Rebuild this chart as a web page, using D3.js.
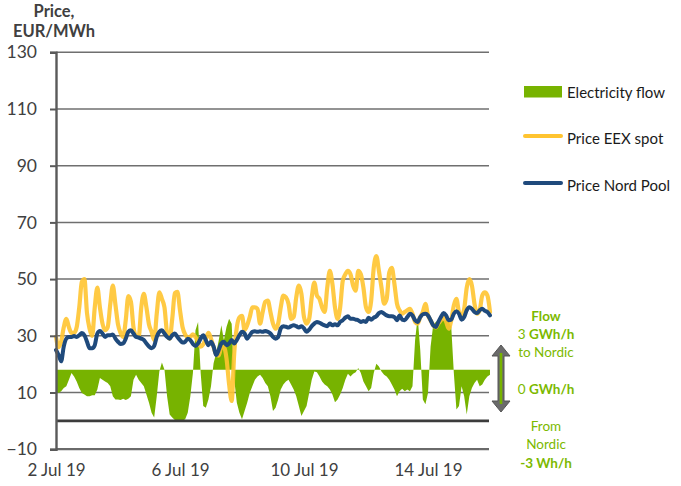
<!DOCTYPE html>
<html><head><meta charset="utf-8">
<script src="https://cdn.jsdelivr.net/npm/d3@7"></script>
<style>
html,body{margin:0;padding:0;background:#fff;}
svg{display:block;font-family:Lato,"Open Sans",sans-serif;}
</style></head>
<body><svg id="c" width="681" height="486"></svg>
<script>
// ---- data (2-hourly, 2 Jul 2019 00:00 .. 16 Jul 2019 00:00) ----
const startDate = "2019-07-02T00:00:00";
const stepHours = 2;
const priceEEX = [
 29.6,26,28,33,36,33,31,31,33,40,49,50,
 38,32.5,30,40,47,40,34.3,32,33,41,47.7,41,
 34,31,29.6,35.5,44,42,33,30,29.6,40,44.8,40,
 34,31.4,28.5,37.8,45.3,43,40,31,29,36,45,45.5,
 39,33,30.5,29.5,29.7,30.5,29.5,28,26.2,27,29,31,
 29,26,23.5,23,26,26,22,13,7,24,33,36.5,
 37,32,33.7,36.6,40,40,39.5,34.3,38.4,42,42.4,38.4,
 34.3,32.5,34.3,40,44.2,43.6,41.3,36,36.6,43.6,47.7,44.8,
 36.6,34.3,36,43.6,48.8,44.2,43,40,38.4,47,52.9,48.3,
 40,36,40,49.4,51.7,52.9,51.7,47.7,45.9,52.9,51.7,47,
 40,38.4,42.4,54,58.1,52.9,47,41.3,43,52.3,54,48.3,
 41.3,39,37.8,38.4,39,39.5,37.8,34.9,34.3,36.6,38.4,41.3,
 37.2,35.5,33.7,33,34.3,35.5,36.6,35,32.5,35.5,40.7,43,
 38.4,37.2,39.5,47,50,47.7,41.3,37.8,39,44.2,45.3,44.2,38.4
];
const priceNordPool = [
 25,23.2,21,26.2,29,29.6,29.6,29.9,29.6,30.2,31,30.2,
 27.9,25.6,25.6,26.7,30.8,31.7,30.8,29.6,30.2,30.2,30.5,29,
 27.9,27.1,27.3,29,31.4,32,30.8,29.6,29.4,29,28.5,27.3,
 26.2,25.6,26.4,29.6,31.4,32,30.8,29.6,29,30.2,30.8,29.6,
 28.5,27.6,27.9,29,28.5,27.1,26.4,27.3,29,30.2,28.5,26.7,
 27.9,26.2,23.2,25,27.3,27.9,26.7,27.3,28.5,27.3,28.5,30.2,
 31.4,30.8,29,30.2,31.4,31.6,31.4,31.6,31.4,31.7,31.4,30.8,
 29.6,29,29.6,32.6,33.4,33.2,32.9,33.4,33.7,33.4,32.9,33.4,
 32.6,31.4,32.2,33.4,34.3,34.9,34.6,34.1,33.7,33.4,34.3,33.7,
 34.1,33.7,34.9,35.5,36.4,36.9,36,36,35.7,35.5,34.9,35.2,
 34.9,36.4,35.7,36.4,36.9,38,38.4,37.8,37.2,36.9,36.9,36.6,
 35.5,37.2,35.7,35.5,36.6,37.8,37.2,35.5,34.9,36.6,37.6,37.8,
 37.2,35.5,33.7,33.1,34.9,36.6,38,37.2,35.5,35.7,37.8,38.7,
 37.8,35.7,36.6,39,40.1,39.5,38.4,38,39,39.5,38.8,38.4,37.2
];
// electricity flow, GWh/h (positive = to Nordic)
const flowGWh = [
 -1.26,-1.36,-1.26,-1.07,-0.97,-0.58,-0.19,-0.39,-0.68,-1.07,-1.36,-1.45,
 -1.55,-1.55,-1.5,-1.5,-1.16,-0.48,-0.58,-0.68,-0.78,-0.97,-1.55,-1.74,
 -1.74,-1.78,-1.7,-1.78,-1.7,-1.55,-0.58,-0.29,-0.58,-0.78,-0.97,-1.45,
 -1.94,-2.52,-2.81,-1.55,-0.1,0.43,0,-1.55,-2.62,-2.81,-2.95,-3.0,
 -3.0,-3.0,-2.9,-2.52,-1.55,-0.19,2.33,2.81,-0.19,-2.13,-2.23,-1.74,
 -0.97,0.39,0.97,1.74,2.62,1.74,2.52,3.0,2.71,-0.58,-1.94,-2.52,
 -2.9,-2.42,-1.94,-1.36,-0.97,-0.58,-0.39,-0.29,-0.48,-0.78,-0.97,-1.55,
 -2.42,-2.23,-1.74,-1.16,-0.87,-0.68,-0.58,-0.87,-1.16,-1.55,-2.13,-2.71,
 -2.42,-2.13,-1.36,-0.58,-0.1,-0.15,-0.39,-0.68,-0.87,-0.97,-1.16,-1.45,
 -1.9,-1.74,-1.45,-1.07,-0.58,-0.23,-0.39,-0.23,-0.15,0.1,-0.19,-0.68,
 -0.97,-1.26,-1.07,-0.19,0.35,0.19,-0.1,-0.29,-0.39,-0.58,-0.87,-1.16,
 -1.55,-1.26,-1.12,-1.26,-1.16,-1.26,-0.97,1.74,3.1,1.16,-1.74,-2.03,
 -1.36,1.36,2.62,2.81,2.9,3.0,2.9,2.9,2.81,2.52,-0.19,-2.33,
 -2.13,-0.97,-1.55,-2.62,-1.55,-1.07,-0.78,-0.58,-0.97,-0.87,-0.58,-0.39,-0.29
];
const yTicks = [-10,10,30,50,70,90,110,130];
const xTickDates = ["2019-07-02","2019-07-06","2019-07-10","2019-07-14"];
const legendLabels = ["Electricity flow","Price EEX spot","Price Nord Pool"];
const titleLines = ["Price,", "EUR/MWh"];
const flowRange = [-3, 3];          // GWh/h shown on price range below
const flowPriceRange = [0, 36];     // where -3 and +3 GWh/h sit on the price axis

// ---- layout ----
const colGreen = "#77b300", colYellow = "#ffc430", colBlue = "#1f4a7c";
const colText = "#404040", colFlowTxt = "#7cb900";
const svg = d3.select("#c");
const t0 = new Date(startDate);
const times = priceEEX.map((_, i) => new Date(t0.getTime() + i * stepHours * 3600e3));

const x = d3.scaleTime().domain([new Date("2019-07-02T00:00:00"), new Date("2019-07-16T00:00:00")]).range([56, 490]);
const y = d3.scaleLinear().domain([-10, 130]).range([449.2, 52.3]);
const yFlow = d3.scaleLinear().domain(flowRange).range(flowPriceRange.map(y));

// gridlines
svg.append("g").selectAll("line").data(yTicks.filter(d => d > -10)).join("line")
  .attr("x1", 56).attr("x2", 489).attr("y1", d => y(d)).attr("y2", d => y(d))
  .attr("stroke", "#6f6f6f").attr("stroke-width", 1.5);

// flow area
const area = d3.area().x((d, i) => x(times[i])).y0(yFlow(0)).y1(d => yFlow(d));
svg.append("path").datum(flowGWh).attr("d", area).attr("fill", colGreen);

// zero line and bottom line
svg.append("line").attr("x1", 56).attr("x2", 489).attr("y1", y(0)).attr("y2", y(0))
  .attr("stroke", "#3c3c3c").attr("stroke-width", 2.6);
svg.append("line").attr("x1", 56).attr("x2", 489).attr("y1", y(-10)).attr("y2", y(-10))
  .attr("stroke", "#6a6a6a").attr("stroke-width", 2.2);

// price lines
const line = d3.line().x((d, i) => x(times[i])).y(d => y(d)).curve(d3.curveMonotoneX);
svg.append("path").datum(priceEEX).attr("d", line).attr("fill", "none")
  .attr("stroke", colYellow).attr("stroke-width", 4.2).attr("stroke-opacity", 0.9)
  .attr("stroke-linejoin", "round").attr("stroke-linecap", "round");
svg.append("path").datum(priceNordPool).attr("d", line).attr("fill", "none")
  .attr("stroke", colBlue).attr("stroke-width", 4).attr("stroke-linejoin", "round").attr("stroke-linecap", "round");

// y axis
const yAxis = d3.axisLeft(y).tickValues(yTicks).tickSize(6).tickPadding(13).tickFormat(d3.format("d"));
const gy = svg.append("g").attr("transform", "translate(56,0)").call(yAxis);
gy.select(".domain").attr("stroke", "#5a5a5a").attr("stroke-width", 2.4);
gy.selectAll(".tick line").attr("stroke", "#5a5a5a").attr("stroke-width", 2);
gy.selectAll(".tick text").attr("fill", colText).attr("font-size", 17.5).attr("font-family", "Lato");

// x axis labels
const xAxis = d3.axisBottom(x).tickValues(xTickDates.map(s => new Date(s + "T00:00:00")))
  .tickSize(0).tickPadding(15).tickFormat(d3.timeFormat("%-d %b %y"));
const gx = svg.append("g").attr("transform", `translate(0,${y(-10)})`).call(xAxis);
gx.select(".domain").remove();
gx.selectAll(".tick text").attr("fill", colText).attr("font-size", 17).attr("font-family", "Lato");

// title (two separate lines)
svg.append("g").selectAll("text").data(titleLines).join("text")
  .attr("x", 54).attr("y", (d, i) => [16.5, 36.5][i])
  .attr("fill", colText).attr("font-weight", "bold").attr("font-size", 16.5).attr("text-anchor", "middle")
  .text(d => d);

// legend
const lg = svg.append("g");
lg.append("rect").attr("x", 524).attr("y", 86).attr("width", 38).attr("height", 11.5).attr("fill", colGreen);
lg.append("line").attr("x1", 525).attr("x2", 561).attr("y1", 136).attr("y2", 136)
  .attr("stroke", colYellow).attr("stroke-width", 4).attr("stroke-linecap", "round");
lg.append("line").attr("x1", 525).attr("x2", 561).attr("y1", 183).attr("y2", 183)
  .attr("stroke", colBlue).attr("stroke-width", 4).attr("stroke-linecap", "round");
lg.selectAll("text").data(legendLabels).join("text")
  .attr("x", 567).attr("y", (d, i) => [92, 138, 185][i]).attr("dominant-baseline", "central")
  .attr("font-size", 15).attr("fill", "#1a1a1a").text(d => d);

// flow arrow
const ax = 501, aTop = 345, aBot = 412;
svg.append("path")
  .attr("d", `M${ax},${aTop} L${ax+9},${aTop+11} L${ax+3},${aTop+11} L${ax+3},${aBot-11} L${ax+9},${aBot-11} L${ax},${aBot} L${ax-9},${aBot-11} L${ax-3},${aBot-11} L${ax-3},${aTop+11} L${ax-9},${aTop+11} Z`)
  .attr("fill", "#6b6b6b").attr("stroke", "#555").attr("stroke-width", 1);
svg.append("line").attr("x1", ax).attr("x2", ax).attr("y1", aTop + 8).attr("y2", aBot - 8)
  .attr("stroke", colGreen).attr("stroke-width", 2.6);

// flow labels
const fl = svg.append("g").attr("fill", colFlowTxt).attr("font-size", 13.5).attr("text-anchor", "middle");
function flowText(yy, parts) {
  const t = fl.append("text").attr("x", 546).attr("y", yy).attr("dominant-baseline", "central");
  parts.forEach(p => t.append("tspan").attr("font-weight", p[1] ? "bold" : "normal").text(p[0]));
}
flowText(316, [["Flow", true]]);
flowText(334, [["3 ", false], ["GWh/h", true]]);
flowText(352, [["to Nordic", false]]);
flowText(389, [["0 ", false], ["GWh/h", true]]);
flowText(426, [["From", false]]);
flowText(444, [["Nordic", false]]);
flowText(463, [["-3 Wh/h", true]]);
</script></body></html>
